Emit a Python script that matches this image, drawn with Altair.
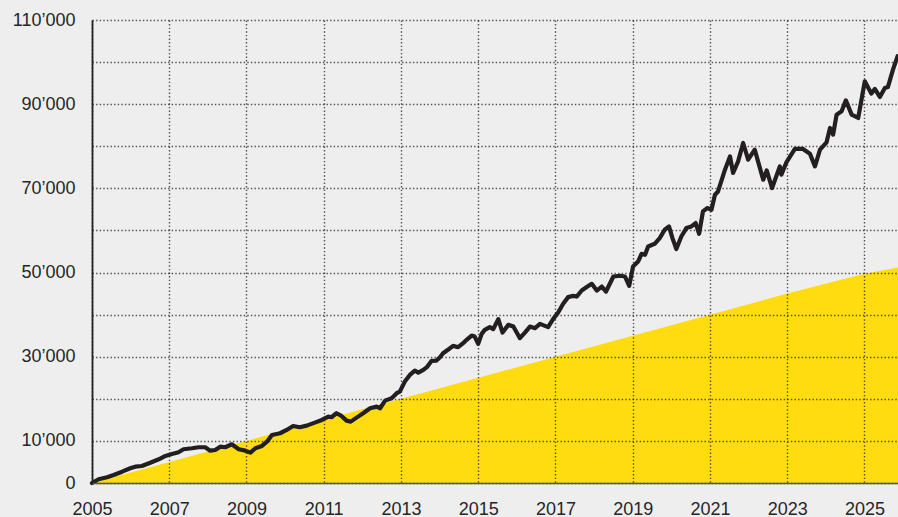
import altair as alt
import pandas as pd

# Portfolio value (decimal year, value in thousands)
port_year = [2005.00, 2005.17, 2005.39, 2005.56, 2005.78, 2005.99, 2006.12, 2006.29, 2006.51, 2006.73,
             2006.90, 2007.07, 2007.24, 2007.37, 2007.59, 2007.76, 2007.93, 2008.06, 2008.19, 2008.32,
             2008.45, 2008.62, 2008.80, 2008.97, 2009.10, 2009.23, 2009.40, 2009.53, 2009.66, 2009.87,
             2010.04, 2010.21, 2010.38, 2010.56, 2010.77, 2010.95, 2011.12, 2011.20, 2011.33, 2011.46,
             2011.59, 2011.70, 2011.85, 2012.02, 2012.20, 2012.37, 2012.46, 2012.59, 2012.76, 2012.89,
             2012.97, 2013.10, 2013.23, 2013.36, 2013.45, 2013.58, 2013.67, 2013.79, 2013.92, 2014.01,
             2014.09, 2014.27, 2014.35, 2014.48, 2014.61, 2014.70, 2014.83, 2014.91, 2015.00, 2015.09,
             2015.17, 2015.30, 2015.39, 2015.52, 2015.63, 2015.78, 2015.91, 2016.08, 2016.21, 2016.34,
             2016.47, 2016.60, 2016.73, 2016.81, 2016.94, 2017.07, 2017.20, 2017.33, 2017.46, 2017.55,
             2017.68, 2017.81, 2017.94, 2018.07, 2018.20, 2018.31, 2018.50, 2018.67, 2018.80, 2018.91,
             2019.01, 2019.14, 2019.23, 2019.32, 2019.40, 2019.57, 2019.70, 2019.83, 2019.94, 2020.03,
             2020.13, 2020.26, 2020.39, 2020.52, 2020.63, 2020.72, 2020.82, 2020.93, 2021.04, 2021.13,
             2021.21, 2021.39, 2021.52, 2021.60, 2021.73, 2021.86, 2021.99, 2022.16, 2022.38, 2022.47,
             2022.61, 2022.81, 2022.85, 2022.98, 2023.20, 2023.41, 2023.59, 2023.72, 2023.85, 2024.02,
             2024.11, 2024.19, 2024.28, 2024.41, 2024.52, 2024.67, 2024.84, 2025.01, 2025.18, 2025.27,
             2025.40, 2025.53, 2025.61, 2025.74, 2025.86]
port_value_k = [0.0, 0.88, 1.36, 1.90, 2.69, 3.50, 3.88, 4.04, 4.83, 5.64,
                6.42, 6.90, 7.30, 8.01, 8.25, 8.49, 8.49, 7.68, 7.85, 8.63,
                8.49, 9.20, 8.01, 7.68, 7.21, 8.25, 8.80, 9.82, 11.41, 11.82,
                12.60, 13.55, 13.25, 13.63, 14.34, 14.98, 15.77, 15.62, 16.57, 15.93,
                14.82, 14.58, 15.53, 16.57, 17.76, 18.14, 17.76, 19.57, 20.14, 21.33,
                21.71, 24.09, 25.68, 26.70, 26.23, 26.87, 27.51, 29.01, 29.08, 29.89,
                30.84, 32.03, 32.58, 32.27, 33.22, 34.01, 35.03, 34.79, 33.05, 35.43,
                36.38, 37.03, 36.55, 38.93, 35.74, 37.57, 37.17, 34.41, 35.74, 37.17,
                36.79, 37.81, 37.34, 37.03, 38.93, 40.50, 42.57, 44.16, 44.47, 44.30,
                45.73, 46.54, 47.32, 45.73, 46.68, 45.49, 49.06, 49.23, 49.06, 46.85,
                51.44, 52.62, 54.46, 54.22, 56.19, 56.83, 58.19, 60.17, 60.95, 58.19,
                55.58, 58.57, 60.57, 60.95, 61.76, 59.22, 64.52, 65.33, 64.92, 68.49,
                69.27, 74.43, 77.60, 73.65, 76.41, 80.78, 76.81, 79.19, 72.06, 74.27,
                70.08, 75.22, 73.25, 76.17, 79.36, 79.36, 78.24, 75.22, 79.19, 80.93,
                84.35, 82.76, 87.51, 88.30, 90.91, 87.51, 86.73, 95.43, 92.51, 93.62,
                91.72, 93.86, 94.10, 98.22, 101.38]

# Invested amount (decimal year, value in thousands)
inv_year = [2005.0, 2007.0, 2009.0, 2011.0, 2013.0, 2015.0, 2017.0, 2019.0, 2021.0, 2023.0, 2025.0, 2025.87]
inv_value_k = [0.0, 5.0, 10.0, 15.0, 20.0, 25.0, 30.0, 35.0, 40.0, 45.0, 49.7, 51.2]

x_ticks = [2005, 2007, 2009, 2011, 2013, 2015, 2017, 2019, 2021, 2023, 2025]
y_ticks = [0, 10000, 20000, 30000, 40000, 50000, 60000, 70000, 80000, 90000, 100000, 110000]

port = pd.DataFrame({"year": port_year, "value": [v * 1000 for v in port_value_k]})
inv = pd.DataFrame({"year": inv_year, "value": [v * 1000 for v in inv_value_k]})

FONT = "Liberation Sans"

x_scale = alt.Scale(domain=[2005, 2025.87], nice=False, zero=False)
y_scale = alt.Scale(domain=[0, 110000], nice=False)

x_axis = alt.Axis(values=x_ticks, format="d", title=None, ticks=False, labelPadding=17,
                  labelFlush=False, labelOverlap=False,
                  labelFontSize=18, labelFont=FONT, labelColor="#262626",
                  domainColor="#555555", domainWidth=1.5,
                  grid=True, gridColor="#2a2a2a", gridOpacity=0.8, gridDash=[1.4, 2.2], gridWidth=1.4,
                  zindex=1)
y_axis = alt.Axis(values=y_ticks, title=None, ticks=False, labelPadding=17,
                  labelFlush=False, labelOverlap=False,
                  labelFontSize=18, labelFont=FONT, labelColor="#262626",
                  labelExpr="(datum.value == 0 || (datum.value / 10000) % 2 == 1) ? replace(format(datum.value, ','), ',', '\u2019') : ''",
                  domainColor="#222222", domainWidth=1.8,
                  grid=True, gridColor="#2a2a2a", gridOpacity=0.8, gridDash=[1.4, 2.2], gridWidth=1.4,
                  zindex=1)

area = alt.Chart(inv).mark_area(color="#ffdc10", opacity=1, interpolate="linear").encode(
    x=alt.X("year:Q", scale=x_scale, axis=x_axis),
    y=alt.Y("value:Q", scale=y_scale, axis=y_axis),
)

line = alt.Chart(port).mark_line(color="#231f20", strokeWidth=4.2, strokeJoin="round", strokeCap="round").encode(
    x=alt.X("year:Q", scale=x_scale),
    y=alt.Y("value:Q", scale=y_scale),
)

chart = alt.layer(area, line).properties(
    width=806, height=463,
    autosize=alt.AutoSizeParams(type="none"),
    padding={"left": 92, "top": 20, "right": 0, "bottom": 34},
    background="#eeeeee",
).configure_view(stroke=None, fill="#eeeeee")

chart.save("out.html", embed_options={"renderer": "svg", "actions": False})
